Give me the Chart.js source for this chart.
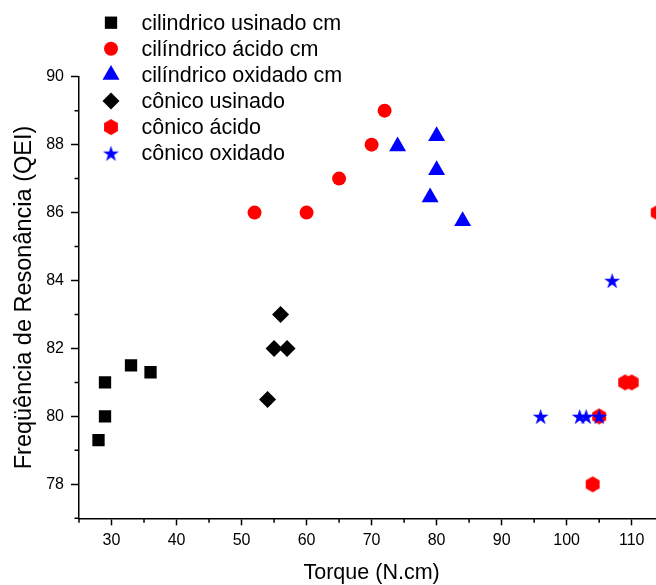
<!DOCTYPE html>
<html><head><meta charset="utf-8">
<script src="https://cdn.jsdelivr.net/npm/chart.js@4.4.1/dist/chart.umd.min.js"></script>
<style>html,body{margin:0;padding:0;background:#fff;overflow:hidden}#wrap{width:680px;height:585px}</style>
</head><body><div id="wrap"><canvas id="c" width="680" height="585"></canvas></div>
<script>
const seriesNames = ['cilindrico usinado cm','cilíndrico ácido cm','cilíndrico oxidado cm','cônico usinado','cônico ácido','cônico oxidado'];
const cilUsinadoX = [28, 29, 29, 33, 36];
const cilUsinadoY = [79.3, 80, 81, 81.5, 81.3];
const cilAcidoX = [52, 60, 65, 70, 72];
const cilAcidoY = [86, 86, 87, 88, 89];
const cilOxidadoX = [74, 80, 80, 79, 84];
const cilOxidadoY = [87.95, 88.25, 87.25, 86.45, 85.75];
const conUsinadoX = [56, 55, 57, 54];
const conUsinadoY = [83, 82, 82, 80.5];
const conAcidoX = [104, 105, 109, 110, 114];
const conAcidoY = [78, 80, 81, 81, 86];
const conOxidadoX = [96, 102, 103, 105, 107];
const conOxidadoY = [80, 80, 80, 80, 84];
const xMajorTicks = [30, 40, 50, 60, 70, 80, 90, 100, 110];
const xMinorTicks = [25, 35, 45, 55, 65, 75, 85, 95, 105, 115];
const yMajorTicks = [78, 80, 82, 84, 86, 88, 90];
const yMinorTicks = [77, 79, 81, 83, 85, 87, 89];
const xTitle = 'Torque (N.cm)';
const yTitle = 'Freqüência de Resonância (QEI)';

const FONT = "'Liberation Sans', Arial, Helvetica, sans-serif";

function makeHex(color, r) {
  const s = Math.ceil(2 * r) + 2;
  const c = document.createElement('canvas');
  c.width = s; c.height = s;
  const g = c.getContext('2d');
  g.fillStyle = color;
  g.beginPath();
  for (let k = 0; k < 6; k++) {
    const a = -Math.PI / 2 + k * Math.PI / 3;
    const px = s / 2 + r * Math.cos(a), py = s / 2 + r * Math.sin(a);
    k ? g.lineTo(px, py) : g.moveTo(px, py);
  }
  g.closePath(); g.fill();
  return c;
}
function makeStar(color, R) {
  const s = Math.ceil(2 * R) + 2;
  const c = document.createElement('canvas');
  c.width = s; c.height = s;
  const g = c.getContext('2d');
  g.fillStyle = color;
  const ri = R * 0.382;
  const cy = s / 2 + R * 0.1;
  g.beginPath();
  for (let k = 0; k < 10; k++) {
    const a = -Math.PI / 2 + k * Math.PI / 5;
    const rr = k % 2 ? ri : R;
    const px = s / 2 + rr * Math.cos(a), py = cy + rr * Math.sin(a);
    k ? g.lineTo(px, py) : g.moveTo(px, py);
  }
  g.closePath(); g.fill();
  return c;
}
const hexImg = makeHex('#ff0000', 8);
const starImg = makeStar('#0000ff', 8.4);

function pts(xs, ys) { return xs.map((x, i) => ({ x: x, y: ys[i] })); }

const datasets = [
  { label: seriesNames[0], data: pts(cilUsinadoX, cilUsinadoY), pointStyle: 'rect', pointRadius: 8.7, backgroundColor: '#000000', order: 6 },
  { label: seriesNames[1], data: pts(cilAcidoX, cilAcidoY), pointStyle: 'circle', pointRadius: 7, backgroundColor: '#ff0000', order: 5 },
  { label: seriesNames[2], data: pts(cilOxidadoX, cilOxidadoY), pointStyle: 'triangle', pointRadius: 9.8, backgroundColor: '#0000ff', order: 4 },
  { label: seriesNames[3], data: pts(conUsinadoX, conUsinadoY), pointStyle: 'rectRot', pointRadius: 8.5, backgroundColor: '#000000', order: 3 },
  { label: seriesNames[4], data: pts(conAcidoX, conAcidoY), pointStyle: hexImg, pointRadius: 8, backgroundColor: '#ff0000', order: 2 },
  { label: seriesNames[5], data: pts(conOxidadoX, conOxidadoY), pointStyle: starImg, pointRadius: 8, backgroundColor: '#0000ff', order: 1 }
];
datasets.forEach(d => { d.pointBorderWidth = 0; d.borderWidth = 0; d.showLine = false; d.pointBackgroundColor = d.backgroundColor; d.pointBorderColor = d.backgroundColor; });

const minorTicksPlugin = {
  id: 'minorTicks',
  afterDraw(chart) {
    const ctx = chart.ctx, xs = chart.scales.x, ys = chart.scales.y, a = chart.chartArea;
    ctx.save();
    ctx.strokeStyle = '#000'; ctx.lineWidth = 1.5;
    ctx.beginPath();
    xMinorTicks.forEach(v => { const p = xs.getPixelForValue(v); ctx.moveTo(p, a.bottom); ctx.lineTo(p, a.bottom + 4.5); });
    yMinorTicks.forEach(v => { const p = ys.getPixelForValue(v); ctx.moveTo(a.left, p); ctx.lineTo(a.left - 4.5, p); });
    ctx.stroke();
    ctx.restore();
  }
};

const legendPlugin = {
  id: 'manualLegend',
  afterDraw(chart) {
    const ctx = chart.ctx;
    ctx.save();
    chart.data.datasets.forEach((d, i) => {
      const y = 22.7 + i * 26.1;
      ctx.fillStyle = d.backgroundColor;
      ctx.strokeStyle = d.backgroundColor;
      const st = { pointStyle: d.pointStyle, radius: d.pointRadius, rotation: 0, borderWidth: 0 };
      if (Chart.helpers && Chart.helpers.drawPoint) {
        Chart.helpers.drawPoint(ctx, st, 111, y);
      }
      ctx.fillStyle = '#000';
      ctx.font = '21.5px ' + FONT;
      ctx.textBaseline = 'middle';
      ctx.textAlign = 'left';
      ctx.fillText(d.label, 141.5, y + 1);
    });
    ctx.restore();
  }
};

new Chart(document.getElementById('c'), {
  type: 'scatter',
  data: { datasets: datasets },
  options: {
    responsive: false,
    animation: false,
    events: [],
    layout: { padding: { top: 76.7, right: 15.8, left: 0, bottom: 0 } },
    plugins: { legend: { display: false }, tooltip: { enabled: false }, title: { display: false } },
    scales: {
      x: {
        type: 'linear', position: 'bottom', min: 25, max: 115,
        afterBuildTicks: s => { s.ticks = xMajorTicks.map(v => ({ value: v })); },
        afterFit: s => { s.height = 66.7; },
        grid: { display: true, drawOnChartArea: false, drawTicks: true, tickLength: 7, tickColor: '#000', tickWidth: 1.5 },
        border: { display: true, color: '#000', width: 1.5 },
        ticks: { color: '#000', font: { family: FONT, size: 16 }, padding: 6, maxRotation: 0, autoSkip: false, callback: v => String(v) },
        title: { display: true, text: xTitle, color: '#000', font: { family: FONT, size: 21.5 }, padding: { top: 0, bottom: -1 } }
      },
      y: {
        type: 'linear', position: 'left', min: 77, max: 90,
        afterBuildTicks: s => { s.ticks = yMajorTicks.map(v => ({ value: v })); },
        afterFit: s => { s.width = 79; },
        grid: { display: true, drawOnChartArea: false, drawTicks: true, tickLength: 8, tickColor: '#000', tickWidth: 1.5 },
        border: { display: true, color: '#000', width: 1.5 },
        ticks: { color: '#000', font: { family: FONT, size: 16 }, padding: 7, autoSkip: false, callback: v => String(v) },
        title: { display: true, text: yTitle, color: '#000', font: { family: FONT, size: 23.5 }, padding: { top: 10, bottom: 0 } }
      }
    }
  },
  plugins: [minorTicksPlugin, legendPlugin]
});
</script></body></html>
